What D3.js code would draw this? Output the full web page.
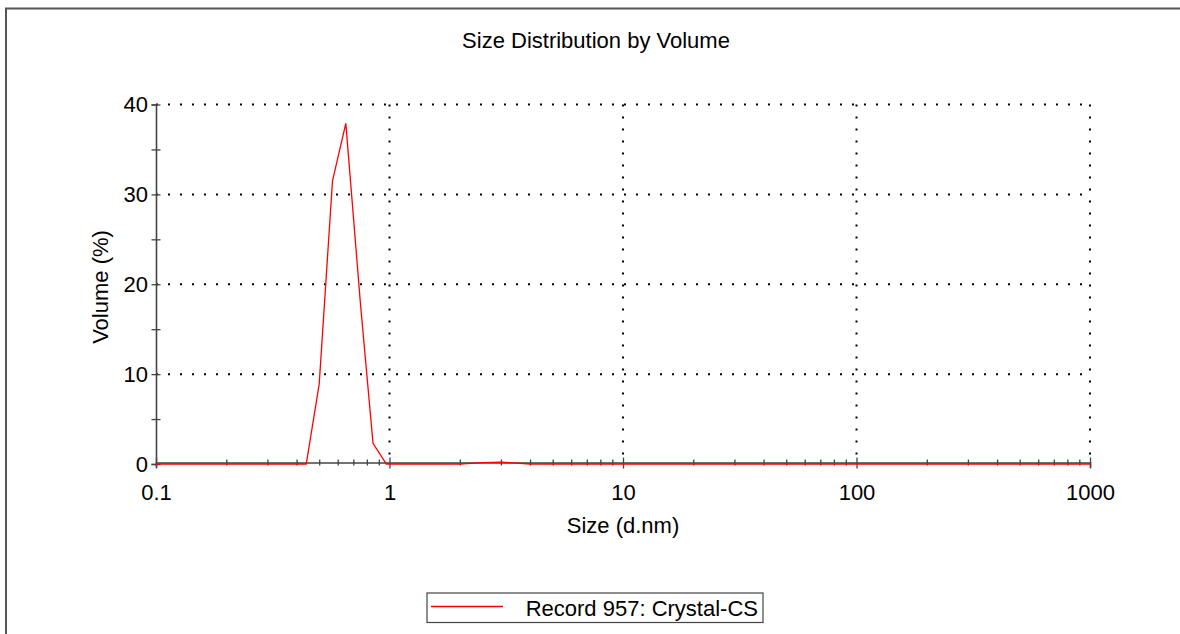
<!DOCTYPE html>
<html>
<head>
<meta charset="utf-8">
<script src="https://cdn.jsdelivr.net/npm/d3@7"></script>
<style>
  body { margin: 0; background: #fff; overflow: hidden; }
  svg { display: block; font-family: "Liberation Sans", Arial, sans-serif; }
</style>
</head>
<body>
<svg></svg>
<script>
var viewWidth = 1180;
var viewHeight = 634;

// data
var sizeNm    = [0.1, 0.44, 0.50, 0.57, 0.65, 0.75, 0.85, 0.97, 2.0, 2.5, 3.0, 3.5, 4.0, 1000];
var volumePct = [0,   0,    8.9,  31.5, 37.9, 18.0, 2.3,  0,    0,   0.15, 0.2, 0.1, 0,   0];
var xMajor = [0.1, 1, 10, 100, 1000];
var xLabels = ["0.1", "1", "10", "100", "1000"];
var yMajor = [0, 10, 20, 30, 40];
var yMinor = [5, 15, 25, 35];
var seriesName = "Record 957: Crystal-CS";

var points = sizeNm.map(function(s, i) { return {x: s, y: volumePct[i]}; });

var xMinor = [];
xMajor.slice(0, -1).forEach(function(d) {
  for (var k = 2; k <= 9; k++) xMinor.push(d * k);
});

var svg = d3.select("svg")
  .attr("width", viewWidth)
  .attr("height", viewHeight);

// outer frame, only top and left edges are visible
svg.append("path")
  .attr("d", "M6,700V8.5H1300")
  .attr("fill", "none")
  .attr("stroke", "#555")
  .attr("stroke-width", 2);

var xScale = d3.scaleLog()
  .domain([0.1, 1000])
  .range([156, 1090]);
var yScale = d3.scaleLinear()
  .domain([0, 40])
  .range([464, 104.5]);

var fs = 22;

// title
svg.append("text")
  .attr("x", 596).attr("y", 48)
  .attr("text-anchor", "middle")
  .attr("font-size", fs)
  .text("Size Distribution by Volume");

// dotted grid
var grid = svg.append("g").attr("stroke", "#000").attr("stroke-width", 2).attr("stroke-dasharray", "2,10");
grid.selectAll("line.h")
  .data(yMajor.slice(1))
  .enter().append("line")
  .attr("class", "h")
  .attr("x1", xScale(0.1)).attr("x2", xScale(1000))
  .attr("y1", function(d) { return yScale(d); })
  .attr("y2", function(d) { return yScale(d); });
grid.selectAll("line.v")
  .data(xMajor.slice(1))
  .enter().append("line")
  .attr("class", "v")
  .attr("y1", yScale(40)).attr("y2", yScale(0))
  .attr("x1", function(d) { return xScale(d); })
  .attr("x2", function(d) { return xScale(d); });

// x axis (major + minor ticks crossing the line)
var xAxisY = yScale(0) - 1.5;
var xAxis = svg.append("g")
  .attr("transform", "translate(0," + xAxisY + ")")
  .call(d3.axisBottom(xScale).tickValues(xMajor).tickSize(5).tickFormat(function(d, i) { return xLabels[i]; }));
xAxis.selectAll(".tick line").attr("y1", -5).attr("y2", 6);
xAxis.selectAll(".tick text").attr("y", 22).attr("font-size", fs).attr("font-family", "Liberation Sans, Arial, sans-serif").attr("fill", "#000");
xAxis.select(".domain").attr("stroke", "#444").attr("stroke-width", 1.6);
xAxis.selectAll(".tick line").attr("stroke", "#444").attr("stroke-width", 1.3);

var xMinorAxis = svg.append("g")
  .attr("transform", "translate(0," + xAxisY + ")")
  .call(d3.axisBottom(xScale).tickValues(xMinor).tickSize(3).tickFormat(""));
xMinorAxis.select(".domain").remove();
xMinorAxis.selectAll(".tick line").attr("y1", -3).attr("y2", 3).attr("stroke", "#444").attr("stroke-width", 1.3);

// y axis
var yAxis = svg.append("g")
  .attr("transform", "translate(" + xScale(0.1) + ",0)")
  .call(d3.axisLeft(yScale).tickValues(yMajor).tickSize(4.5));
yAxis.selectAll(".tick line").attr("x1", -4.5).attr("x2", 4.5).attr("stroke", "#444").attr("stroke-width", 1.3);
yAxis.selectAll(".tick text").attr("x", -8).attr("font-size", fs).attr("font-family", "Liberation Sans, Arial, sans-serif").attr("fill", "#000");
yAxis.select(".domain").attr("stroke", "#444").attr("stroke-width", 1.6);

var yMinorAxis = svg.append("g")
  .attr("transform", "translate(" + xScale(0.1) + ",0)")
  .call(d3.axisLeft(yScale).tickValues(yMinor).tickSize(4.5).tickFormat(""));
yMinorAxis.select(".domain").remove();
yMinorAxis.selectAll(".tick line").attr("x1", -4.5).attr("x2", 4.5).attr("stroke", "#444").attr("stroke-width", 1.3);

// axis titles
svg.append("text")
  .attr("x", (xScale(0.1) + xScale(1000)) / 2).attr("y", 533)
  .attr("text-anchor", "middle")
  .attr("font-size", fs)
  .text("Size (d.nm)");
svg.append("text")
  .attr("transform", "translate(108," + 287 + ") rotate(-90)")
  .attr("text-anchor", "middle")
  .attr("font-size", fs)
  .text("Volume (%)");

// series
var line = d3.line()
  .x(function(d) { return xScale(d.x); })
  .y(function(d) { return yScale(d.y); });
svg.append("path")
  .datum(points)
  .attr("d", line)
  .attr("fill", "none")
  .attr("stroke", "#ff0000")
  .attr("stroke-width", 1.3);

// legend
var legend = svg.append("g").attr("transform", "translate(427,593)");
legend.append("rect")
  .attr("width", 336).attr("height", 29.5)
  .attr("fill", "#fff")
  .attr("stroke", "#444")
  .attr("stroke-width", 1.2);
legend.append("line")
  .attr("x1", 4).attr("x2", 76)
  .attr("y1", 13.5).attr("y2", 13.5)
  .attr("stroke", "#ff0000")
  .attr("stroke-width", 1.3);
legend.append("text")
  .attr("x", 331).attr("y", 23)
  .attr("text-anchor", "end")
  .attr("font-size", fs)
  .text(seriesName);
</script>
</body>
</html>
